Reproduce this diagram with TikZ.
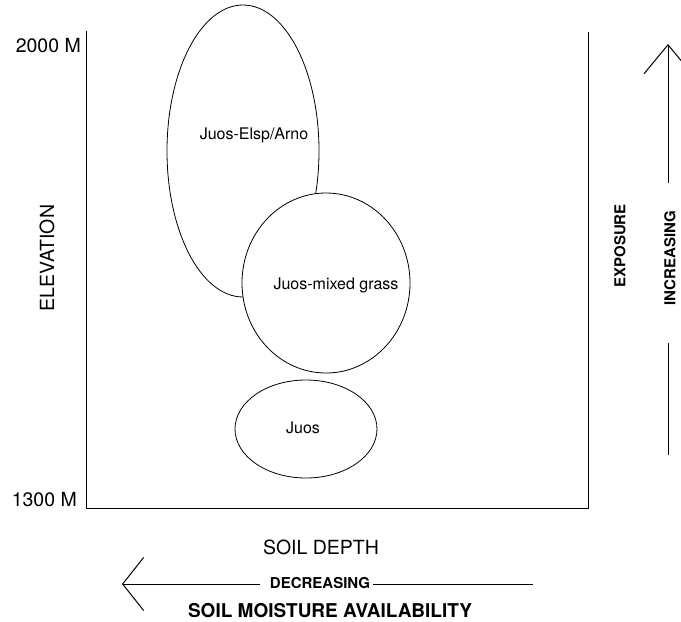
\documentclass[tikz,border=0pt]{standalone}
\usepackage{fontspec}
\setmainfont{TeX Gyre Heros}
\usetikzlibrary{shapes.geometric,arrows.meta}

\begin{document}
\begin{tikzpicture}[x=1pt,y=-1pt]
  \tikzset{ZoneStyle/.style = {
    shape         = ellipse,
    draw          = black,
    fill          = white,
    line width    = 0.8pt,
    inner sep     = 0pt,
    outer sep     = 0pt
    }
  }
  \tikzset{ZoneLabelStyle/.style = {
    font          = \fontsize{16}{18}\selectfont,
    inner sep     = 0pt
    }
  }
  \tikzset{AxisLabelStyle/.style = {
    font          = \fontsize{19.5}{22}\selectfont,
    inner sep     = 0pt
    }
  }
  \tikzset{TrendLabelStyle/.style = {
    font          = \bfseries\fontsize{15}{17}\selectfont,
    inner sep     = 0pt
    }
  }
  \tikzset{AxisStyle/.style = {
    draw          = black,
    line width    = 0.8pt
    }
  }
  \tikzset{TrendStyle/.style = {
    draw          = black,
    line width    = 1pt
    }
  }
  \tikzset{BarbStyle/.style = {
    TrendStyle,
    arrows        = {Straight Barb[#1]-}
    }
  }

  \useasboundingbox (0,0) rectangle (681,622);

  % frame of the plot
  \coordinate (TL) at (86, 31);
  \coordinate (BL) at (86, 508);
  \coordinate (BR) at (588, 508);
  \coordinate (TR) at (588, 32);
  \draw[AxisStyle] (TL) -- (BL) -- (BR) -- (TR);

  % vegetation zones
  \node[ZoneStyle, minimum width=152pt, minimum height=292pt](elsp) at (243, 151) {};
  \node[ZoneStyle, minimum width=168pt, minimum height=180pt](mixed) at (326, 283) {};
  \node[ZoneStyle, minimum width=142pt, minimum height=98pt](juos) at (306, 429) {};
  \node[ZoneLabelStyle](elspText) at (254, 135) {Juos-Elsp/Arno};
  \node[ZoneLabelStyle](mixedText) at (336, 285) {Juos-mixed grass};
  \node[ZoneLabelStyle](juosText) at (303, 428) {Juos};

  % axis labels
  \node[AxisLabelStyle, anchor=east](high) at (81, 46) {2000 M};
  \node[AxisLabelStyle, anchor=east](low) at (77, 500) {1300 M};
  \node[AxisLabelStyle, rotate=90](elev) at (47, 258) {ELEVATION};
  \node[AxisLabelStyle](depth) at (321, 547) {SOIL DEPTH};
  \node[AxisLabelStyle, font=\bfseries\fontsize{19}{22}\selectfont](moist) at (330, 611) {SOIL MOISTURE AVAILABILITY};
  \node[TrendLabelStyle, rotate=90](expo) at (620, 246) {EXPOSURE};
  \node[TrendLabelStyle, rotate=90](incr) at (670, 258) {INCREASING};
  \node[TrendLabelStyle](decr) at (320, 583) {DECREASING};

  % trend arrows
  \coordinate (upTip) at (668, 44);
  \coordinate (upA) at (668, 183);
  \coordinate (upB) at (668, 343);
  \coordinate (upEnd) at (668, 455);
  \draw[BarbStyle={length=29pt,width=48pt}](upTip) -- (upA);
  \draw[TrendStyle](upB) -- (upEnd);

  \coordinate (leftTip) at (122, 584);
  \coordinate (leftA) at (260, 584);
  \coordinate (leftB) at (373, 584);
  \coordinate (leftEnd) at (533, 584);
  \draw[BarbStyle={length=21pt,width=53pt}](leftTip) -- (leftA);
  \draw[TrendStyle](leftB) -- (leftEnd);

\end{tikzpicture}
\end{document}
